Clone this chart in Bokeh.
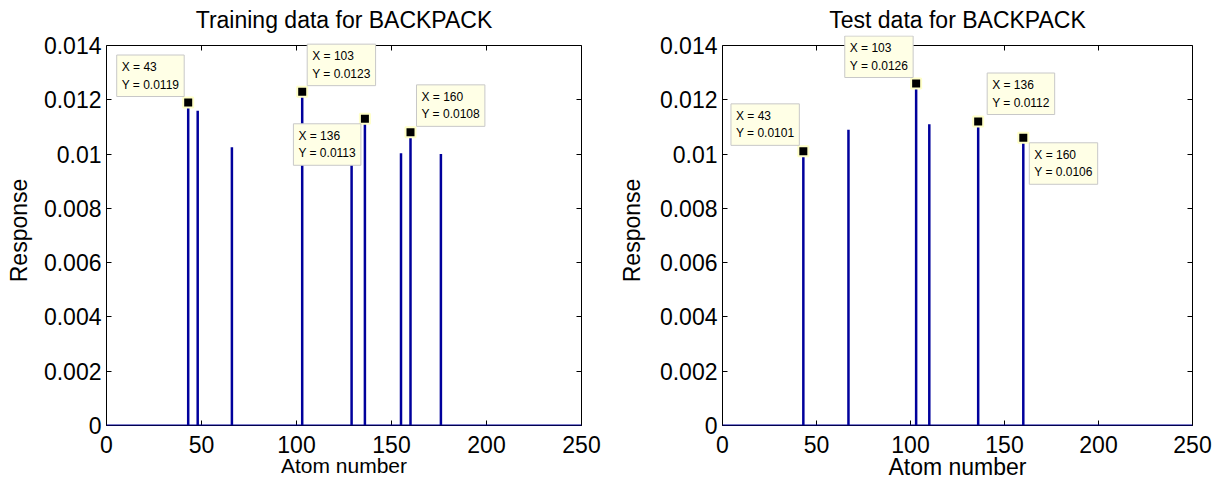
from bokeh.plotting import figure
from bokeh.layouts import row
from bokeh.models import LinearAxis, FixedTicker, Span, Range1d, Label
from bokeh.embed import file_html
from bokeh.resources import INLINE

# ---- data ----
train_atoms = [43, 48, 66, 103, 129, 136, 155, 160, 176]
train_resp = [0.0119, 0.0116, 0.01025, 0.0123, 0.0100, 0.0113, 0.01003, 0.0108, 0.0100]
test_atoms = [43, 67, 103, 110, 136, 160]
test_resp = [0.0101, 0.0109, 0.0126, 0.0111, 0.0112, 0.0106]

train_tips = [43, 103, 136, 160]
test_tips = [43, 103, 136, 160]

x_ticks = [0, 50, 100, 150, 200, 250]
y_ticks = [0, 0.002, 0.004, 0.006, 0.008, 0.01, 0.012, 0.014]
y_tick_labels = ["0", "0.002", "0.004", "0.006", "0.008", "0.01", "0.012", "0.014"]
x_lim = (0, 250)
y_lim = (0, 0.014)

# tip placement (anchor, x offset px, y offset px upward)
train_tip_place = [("bottom_right", -4, 6), ("bottom_left", 5, 6),
                   ("top_right", -4, -5), ("bottom_left", 6, 6)]
test_tip_place = [("bottom_right", -4, 6), ("bottom_right", -3, 6),
                  ("bottom_left", 9, 7), ("top_left", 6, -5)]

FONT = "Liberation Sans"
STEM = "#00009c"
AXES_H = 380      # visible axes box height (px)
HEADROOM = 10     # extra px above the box so tips can overflow it
TOP = 45
BOTTOM = 52


def make_plot(title, atoms, resp, tips, place, xlabel_size, ylab_standoff, bl, fw, br):
    y_top = y_lim[1] * (AXES_H + HEADROOM) / AXES_H
    p = figure(width=bl + fw + br, height=TOP + AXES_H + BOTTOM,
               frame_width=fw, frame_height=AXES_H + HEADROOM,
               x_range=Range1d(*x_lim), y_range=Range1d(y_lim[0], y_top),
               output_backend="svg", toolbar_location=None,
               min_border_left=bl, min_border_right=br, min_border_top=TOP - HEADROOM,
               min_border_bottom=BOTTOM)
    p.title.text = title
    p.title.text_font = FONT
    p.title.text_font_size = "23px"
    p.title.text_font_style = "normal"
    p.title.text_color = "black"
    p.title.align = "center"
    p.title.standoff = 6
    p.xgrid.visible = False
    p.ygrid.visible = False
    p.outline_line_color = None
    p.background_fill_color = "white"
    p.border_fill_color = "white"

    for ax, ticks in ((p.xaxis[0], x_ticks), (p.yaxis[0], y_ticks)):
        ax.ticker = FixedTicker(ticks=ticks)
        ax.major_tick_in = 5
        ax.major_tick_out = 0
        ax.minor_tick_line_color = None
        ax.axis_line_color = "black"
        ax.major_tick_line_color = "black"
        ax.major_label_text_font = FONT
        ax.major_label_text_font_size = "23px"
        ax.major_label_text_color = "black"
        ax.axis_label_text_font = FONT
        ax.axis_label_text_font_style = "normal"
        ax.axis_label_text_color = "black"
    p.yaxis[0].bounds = y_lim
    p.yaxis[0].major_label_overrides = {t: s for t, s in zip(y_ticks, y_tick_labels)}
    p.xaxis[0].axis_label = "Atom number"
    p.xaxis[0].axis_label_text_font_size = xlabel_size
    p.xaxis[0].major_label_standoff = 10
    p.xaxis[0].axis_label_standoff = -2
    p.yaxis[0].axis_label = "Response"
    p.yaxis[0].axis_label_text_font_size = "23px"
    p.yaxis[0].major_label_standoff = 5
    p.yaxis[0].axis_label_standoff = ylab_standoff

    top = LinearAxis(ticker=FixedTicker(ticks=x_ticks), major_tick_in=5, major_tick_out=0,
                     minor_tick_line_color=None, axis_line_color="black",
                     major_label_overrides={t: "" for t in x_ticks},
                     major_label_standoff=0, fixed_location=y_lim[1])
    p.add_layout(top, "above")
    right = LinearAxis(ticker=FixedTicker(ticks=y_ticks), major_tick_in=5, major_tick_out=0,
                       minor_tick_line_color=None, axis_line_color="black",
                       major_label_overrides={t: "" for t in y_ticks},
                       major_label_standoff=0, bounds=y_lim)
    p.add_layout(right, "right")

    p.segment(x0=atoms, y0=[0] * len(atoms), x1=atoms, y1=resp,
              line_color=STEM, line_width=2.5)
    p.add_layout(Span(location=0, dimension="width", line_color=STEM, line_width=2))

    lookup = dict(zip(atoms, resp))
    tx = tips
    ty = [lookup[a] for a in tips]
    p.scatter(x=tx, y=ty, marker="square", size=10, fill_color="black",
              line_color="#ffffc8", line_width=2)
    for a, r, (anc, dx, dy) in zip(tx, ty, place):
        lab = Label(x=a, y=r, text=f"X = {a}\nY = {r:.4f}", anchor=anc,
                    x_offset=dx, y_offset=dy, padding=5,
                    background_fill_color="#ffffe6", background_fill_alpha=1.0,
                    border_line_color="#c8c8c8",
                    text_font=FONT, text_font_size="12px", text_color="black",
                    text_line_height=1.25, level="overlay")
        p.add_layout(lab)
    return p


p1 = make_plot("Training data for BACKPACK", train_atoms, train_resp, train_tips,
               train_tip_place, "21px", 9, 106, 475, 27)
p2 = make_plot("Test data for BACKPACK", test_atoms, test_resp, test_tips,
               test_tip_place, "23px", 12, 114, 470, 28)

layout = row(p1, p2)
open("out.html", "w").write(file_html(layout, INLINE))
